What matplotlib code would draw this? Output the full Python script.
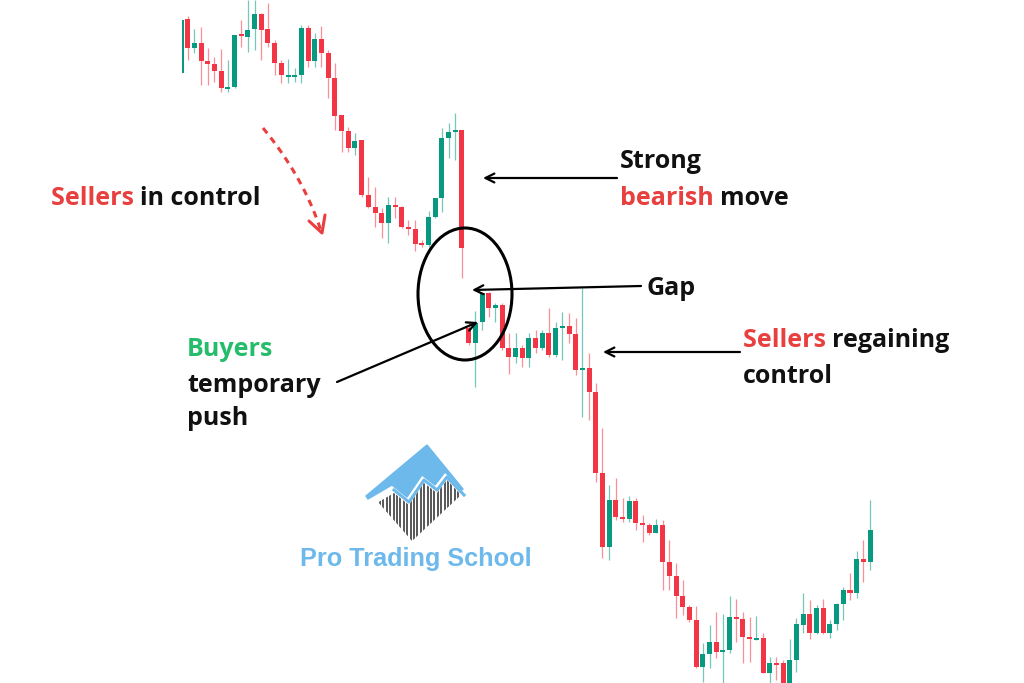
import matplotlib
matplotlib.use('Agg')
import numpy as np
import matplotlib.pyplot as plt
from matplotlib.patches import Ellipse, Polygon

# candle levels (chart units, larger = lower on screen)
opens = [73, 19, 48, 43, 61, 64, 71, 89, 87, 34, 37, 29, 14, 29, 43, 63, 76, 76, 75, 28,
         61, 39, 53, 78, 115, 131, 148, 140, 195, 207, 213, 223, 205, 207, 227, 229, 243, 245, 217, 198,
         138, 132, 130, 328, 343, 322, 293, 308, 305, 348, 357, 348, 358, 338, 348, 333, 355, 328, 326, 334,
         370, 368, 392, 473, 547, 500, 517, 519, 501, 523, 525, 533, 525, 562, 576, 596, 607, 620, 667, 654,
         642, 652, 650, 617, 619, 637, 639, 638, 673, 663, 663, 690, 660, 625, 614, 633, 608, 633, 624, 604,
         590, 593, 559, 562]
closes = [20, 48, 43, 61, 64, 71, 88, 87, 35, 36, 30, 14, 30, 43, 63, 75, 75, 75, 28, 61,
          39, 53, 78, 116, 131, 148, 141, 195, 207, 213, 223, 205, 207, 227, 229, 244, 245, 217, 198, 138,
          132, 130, 248, 343, 323, 293, 308, 305, 348, 357, 348, 358, 338, 348, 333, 355, 328, 326, 334, 370,
          368, 392, 473, 547, 500, 517, 519, 501, 523, 525, 533, 525, 562, 576, 596, 607, 620, 667, 654, 642,
          652, 650, 617, 619, 637, 639, 638, 673, 663, 664, 690, 660, 624, 614, 633, 608, 633, 624, 604, 590,
          593, 559, 562, 530]
highs = [18, 16, 29, 27, 48, 57, 49, 60, 35, 20, 0, 0, 13, 3, 40, 60, 59, 68, 25, 25,
         33, 26, 50, 63, 115, 127, 133, 140, 177, 187, 208, 197, 197, 206, 220, 220, 240, 211, 198, 128,
         123, 113, 130, 322, 311, 293, 292, 303, 303, 333, 333, 345, 333, 330, 330, 308, 322, 312, 313, 318,
         288, 353, 383, 428, 485, 478, 498, 496, 498, 515, 523, 519, 520, 540, 563, 580, 605, 606, 643, 625,
         612, 614, 596, 599, 612, 617, 616, 633, 657, 657, 660, 639, 618, 593, 600, 605, 599, 620, 603, 587,
         573, 551, 540, 500]
lows = [73, 60, 53, 85, 85, 82, 92, 92, 88, 47, 52, 50, 60, 47, 75, 83, 83, 82, 83, 67,
        67, 67, 98, 130, 152, 152, 155, 197, 208, 227, 238, 243, 218, 228, 235, 251, 247, 247, 218, 212,
        158, 160, 278, 345, 387, 330, 317, 322, 350, 374, 363, 367, 367, 353, 350, 357, 357, 360, 343, 375,
        417, 420, 482, 558, 560, 520, 522, 522, 530, 542, 535, 533, 590, 590, 618, 615, 622, 668, 682, 668,
        658, 683, 653, 642, 663, 662, 640, 673, 683, 680, 690, 690, 672, 633, 639, 634, 634, 638, 630, 620,
        600, 598, 582, 570]

RED = '#F23645'
GREEN = '#089981'
TXT_RED = '#E8403F'
TXT_GREEN = '#25BC6B'
FONT = ['Open Sans', 'DejaVu Sans']

fig = plt.figure(figsize=(10.24, 6.83), dpi=100)

# candles
ax = fig.add_axes([182 / 1024, 0, (1024 - 182) / 1024, 1])
ax.set_xlim((182 - 181) / 6.69, (1024 - 181) / 6.69)
ax.set_ylim(683, 0)
ax.axis('off')

o = np.array(opens, float)
c = np.array(closes, float)
x = np.arange(len(o))
up = c < o
cols = np.where(up, GREEN, RED)
ax.vlines(x, highs, lows, colors=cols, lw=0.9, alpha=0.55, zorder=1)
bot = np.minimum(o, c)
h = np.maximum(np.abs(c - o), 1.6)
ax.bar(x, h, bottom=bot, width=0.75, color=cols, zorder=2)

# overlay in pixel units for notes
ov = fig.add_axes([0, 0, 1, 1])
ov.set_xlim(0, 1024)
ov.set_ylim(683, 0)
ov.axis('off')
ov.patch.set_alpha(0)
r = fig.canvas.get_renderer()


def line(x0, y0, parts, size=18):
    for s, col in parts:
        t = ov.text(x0, y0, s, color=col, fontsize=size, fontweight='bold',
                    family=FONT, va='baseline', ha='left')
        x0 += t.get_window_extent(renderer=r).width


line(51, 205, [('Sellers ', TXT_RED), ('in control', '#111111')])
line(620, 168, [('Strong', '#111111')])
line(620, 205, [('bearish ', TXT_RED), ('move', '#111111')])
line(646, 295, [('Gap', '#111111')])
line(187, 356, [('Buyers', TXT_GREEN)])
line(187, 392, [('temporary', '#111111')])
line(187, 425, [('push', '#111111')])
line(743, 347, [('Sellers ', TXT_RED), ('regaining', '#111111')])
line(743, 383, [('control', '#111111')])

arw = dict(arrowstyle='->', lw=1.6, color='black', mutation_scale=16, shrinkA=0, shrinkB=0)
ov.annotate('', xy=(483, 178), xytext=(617, 178), arrowprops=arw)
ov.annotate('', xy=(472, 290), xytext=(641, 286), arrowprops=arw)
ov.annotate('', xy=(603, 352), xytext=(740, 352), arrowprops=arw)
ov.annotate('', xy=(478, 322), xytext=(337, 382), arrowprops=arw)

ov.add_patch(Ellipse((465, 294), 94, 132, fill=False, ec='black', lw=2.2))

# dashed curved arrow
t = np.linspace(0, 1, 60)
p0, p1, p2 = np.array([263, 128]), np.array([304, 178]), np.array([321, 231])
bz = ((1 - t) ** 2)[:, None] * p0 + (2 * (1 - t) * t)[:, None] * p1 + (t ** 2)[:, None] * p2
ov.plot(bz[:, 0], bz[:, 1], color=TXT_RED, lw=2.2, dashes=(2.2, 1.8), solid_capstyle='butt')
ov.plot([309, 322, 325], [221, 233, 215], color=TXT_RED, lw=2.2, solid_capstyle='round')

# logo
BLUE = '#6DB9EB'
zx = [368, 392, 407, 422, 435, 445, 462]
zy = [499, 485, 497, 475, 485, 472, 490]
upper = [(427, 445), (463, 489)] + list(zip(zx[::-1], zy[::-1])) + [(366, 496)]
ov.add_patch(Polygon(upper, closed=True, fc=BLUE, ec=BLUE, lw=1))
ov.plot(np.array(zx[1:]) + 2, np.array(zy[1:]) + 5, color=BLUE, lw=2.2)
clip = Polygon([(378, 502), (412, 541), (461, 495)] + [(a + 2, b + 8) for a, b in zip(zx[::-1], zy[::-1])],
               closed=True, transform=ov.transData, fc='none', ec='none')
ov.add_patch(clip)
for sx in np.arange(380, 460, 3.4):
    ln, = ov.plot([sx, sx], [470, 545], color='#2a2a2a', lw=1.1)
    ln.set_clip_path(clip)
ov.text(300, 566, 'Pro Trading School', color=BLUE, fontsize=18.2, fontweight='bold',
        family=['Liberation Sans', 'DejaVu Sans'], va='baseline', ha='left')

fig.savefig('out.png', dpi=100)
